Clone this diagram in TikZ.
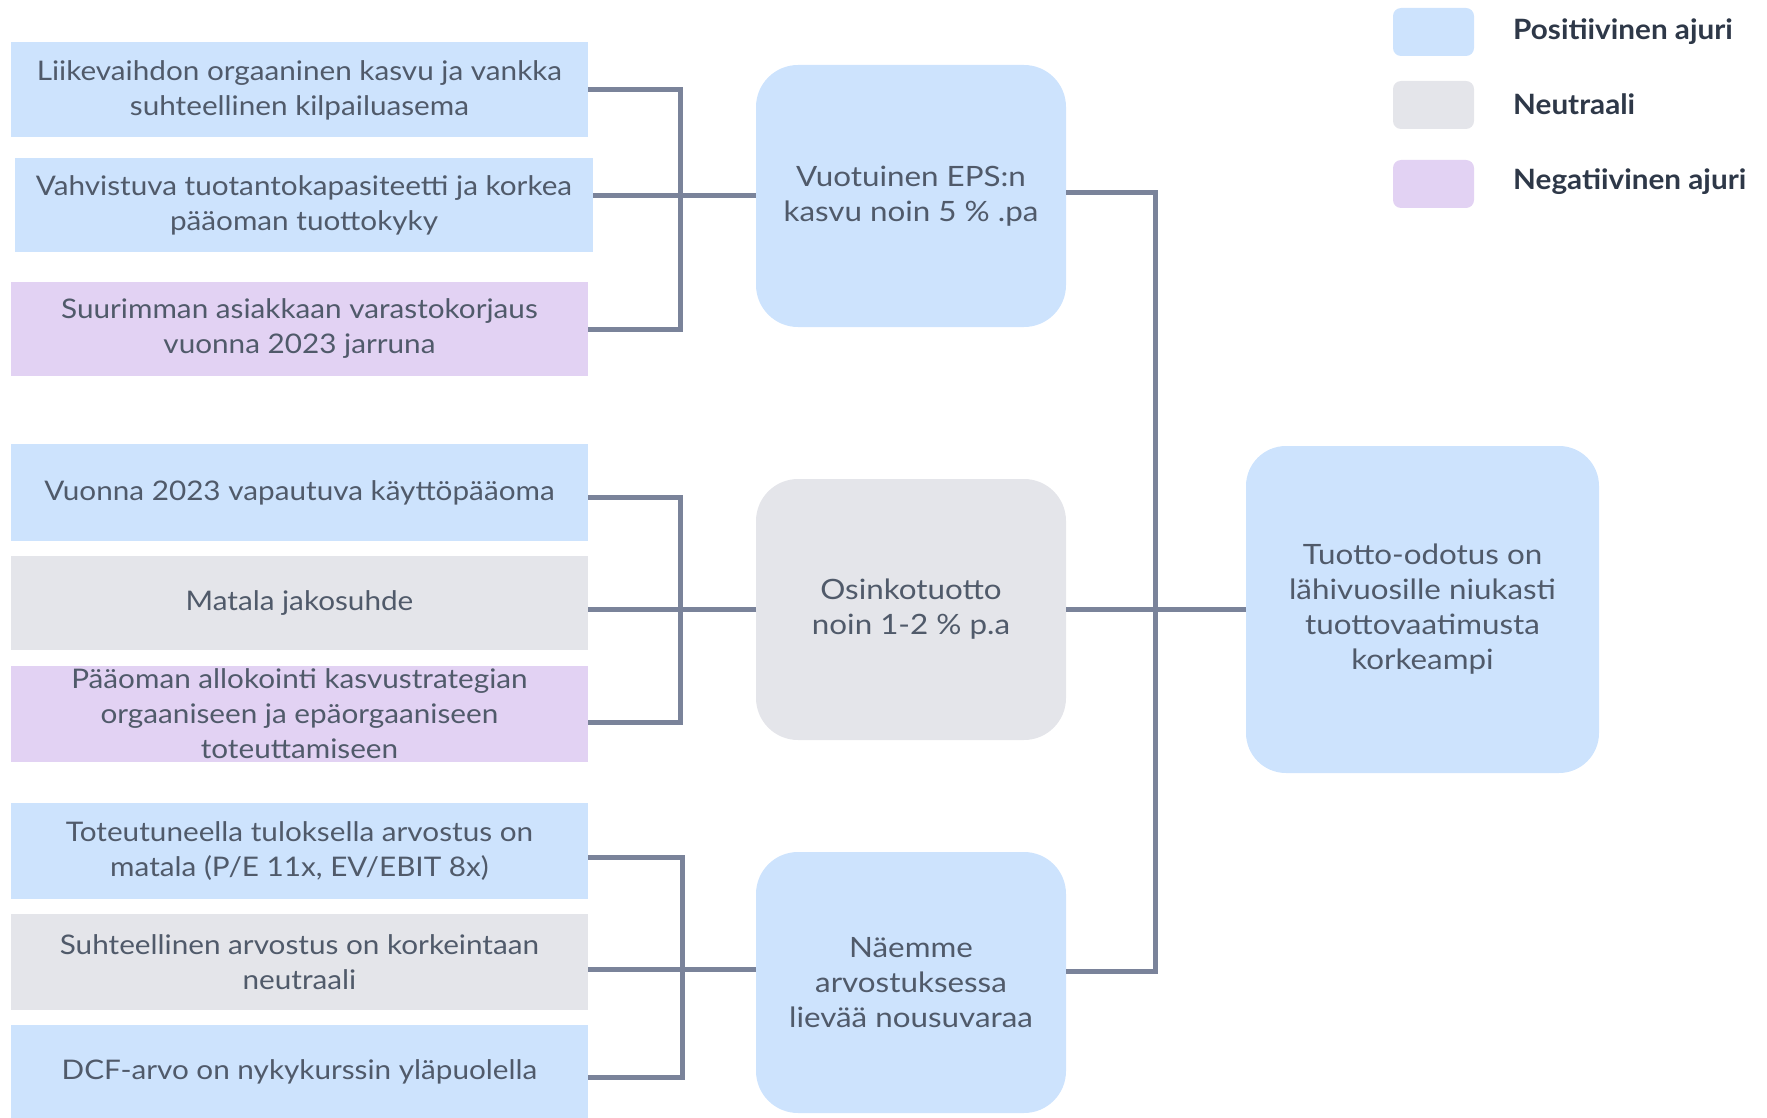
\documentclass[tikz,border=0pt]{standalone}
\usepackage{fontspec}
\setmainfont{Lato}[FakeStretch=1.12]
\newfontfamily\leftfont{Lato}[FakeStretch=1.10]
\newfontfamily\legfont{Lato}[FakeStretch=1.06]
\definecolor{pos}{RGB}{205,227,253}
\definecolor{neu}{RGB}{228,229,234}
\definecolor{neg}{RGB}{226,210,243}
\definecolor{lin}{RGB}{122,131,154}
\definecolor{txt}{RGB}{80,90,106}
\definecolor{leg}{RGB}{46,56,72}
\tikzset{
  lbox/.style={inner sep=0pt, outer sep=0pt, minimum width=577pt, align=center, text=txt,
    font=\leftfont\fontsize{27}{35}\selectfont},
  mbox/.style={inner sep=0pt, outer sep=0pt, minimum width=310pt, minimum height=261pt,
    rounded corners=42pt, align=center, text=txt, font=\fontsize{28}{35}\selectfont},
  sw/.style={inner sep=0pt, outer sep=0pt, minimum width=81pt, minimum height=48pt, rounded corners=8pt},
  legtext/.style={inner sep=0pt, anchor=west, text=leg, font=\legfont\fontsize{28}{34}\selectfont\bfseries},
  conn/.style={draw=lin, line width=5pt, line join=miter}
}
\begin{document}
\begin{tikzpicture}[x=1pt,y=-1pt]
\useasboundingbox (0,0) rectangle (1767,1118);
% left boxes
\node[lbox, fill=pos, minimum height=95pt] (b1) at (299.5,90) {Liikevaihdon orgaaninen kasvu ja vankka\\suhteellinen kilpailuasema};
\node[lbox, fill=pos, minimum height=94pt, minimum width=578pt] (b2) at (304,205) {Vahvistuva tuotantokapasiteetti ja korkea\\pääoman tuottokyky};
\node[lbox, fill=neg, minimum height=94pt] (b3) at (299.5,329) {Suurimman asiakkaan varastokorjaus\\vuonna 2023 jarruna};
\node[lbox, fill=pos, minimum height=97pt] (b4) at (299.5,492.5) {Vuonna 2023 vapautuva käyttöpääoma};
\node[lbox, fill=neu, minimum height=94pt] (b5) at (299.5,603) {Matala jakosuhde};
\node[lbox, fill=neg, minimum height=96pt] (b6) at (299.5,714) {Pääoman allokointi kasvustrategian\\orgaaniseen ja epäorgaaniseen\\toteuttamiseen};
\node[lbox, fill=pos, minimum height=96pt] (b7) at (299.5,851) {Toteutuneella tuloksella arvostus on\\matala (P/E 11x, EV/EBIT 8x)};
\node[lbox, fill=neu, minimum height=96pt] (b8) at (299.5,962) {Suhteellinen arvostus on korkeintaan\\neutraali};
\node[lbox, fill=pos, minimum height=93pt] (b9) at (299.5,1071.5) {DCF-arvo on nykykurssin yläpuolella};
% middle boxes
\node[mbox, fill=pos, minimum height=262pt] (mA) at (911,196) {Vuotuinen EPS:n\\kasvu noin 5 \% .pa};
\node[mbox, fill=neu] (mB) at (911,609.5) {Osinkotuotto\\noin 1-2 \% p.a};
\node[mbox, fill=pos] (mC) at (911,982.5) {Näemme\\arvostuksessa\\lievää nousuvaraa};
% right box
\node[mbox, fill=pos, minimum width=353pt, minimum height=327pt, rounded corners=40pt] (R) at (1422.5,609.5) {Tuotto-odotus on\\lähivuosille niukasti\\tuottovaatimusta\\korkeampi};
% legend
\node[sw, fill=pos] (s1) at (1433.5,32) {};
\node[sw, fill=neu] (s2) at (1433.5,105) {};
\node[sw, fill=neg] (s3) at (1433.5,184) {};
\node[legtext] (l1) at (1513,32) {Positiivinen ajuri};
\node[legtext] (l2) at (1513,104) {Neutraali};
\node[legtext] (l3) at (1513,182) {Negatiivinen ajuri};
% junction coordinates
\coordinate (j1) at (680,0);
\coordinate (j2) at (680,0);
\coordinate (j3) at (682,0);
\coordinate (j4) at (1155,0);
% group 1
\draw[conn] (b1.east) -- (b1.east -| j1) -- (b3.east -| j1) -- (b3.east);
\draw[conn] (mA.west) -- (mA.west -| b2.east);
% group 2
\coordinate (c4) at ([yshift=-4.5pt]b4.east);
\coordinate (c6) at ([yshift=-8pt]b6.east);
\draw[conn] (c4) -- (c4 -| j2) -- (c6 -| j2) -- (c6);
\draw[conn] (mB.west) -- (mB.west -| b5.east);
% group 3
\coordinate (c7) at ([yshift=-6pt]b7.east);
\coordinate (c8) at ([yshift=-7pt]b8.east);
\coordinate (c9) at ([yshift=-6pt]b9.east);
\draw[conn] (c7) -- (c7 -| j3) -- (c9 -| j3) -- (c9);
\draw[conn] (c8) -- (c8 -| mC.west);
% right
\coordinate (cA) at ([yshift=3pt]mA.east);
\coordinate (cC) at ([yshift=11.5pt]mC.east);
\draw[conn] (cA) -- (cA -| j4) -- (cC -| j4) -- (cC);
\draw[conn] (mB.east) -- (R.west);
\end{tikzpicture}
\end{document}
